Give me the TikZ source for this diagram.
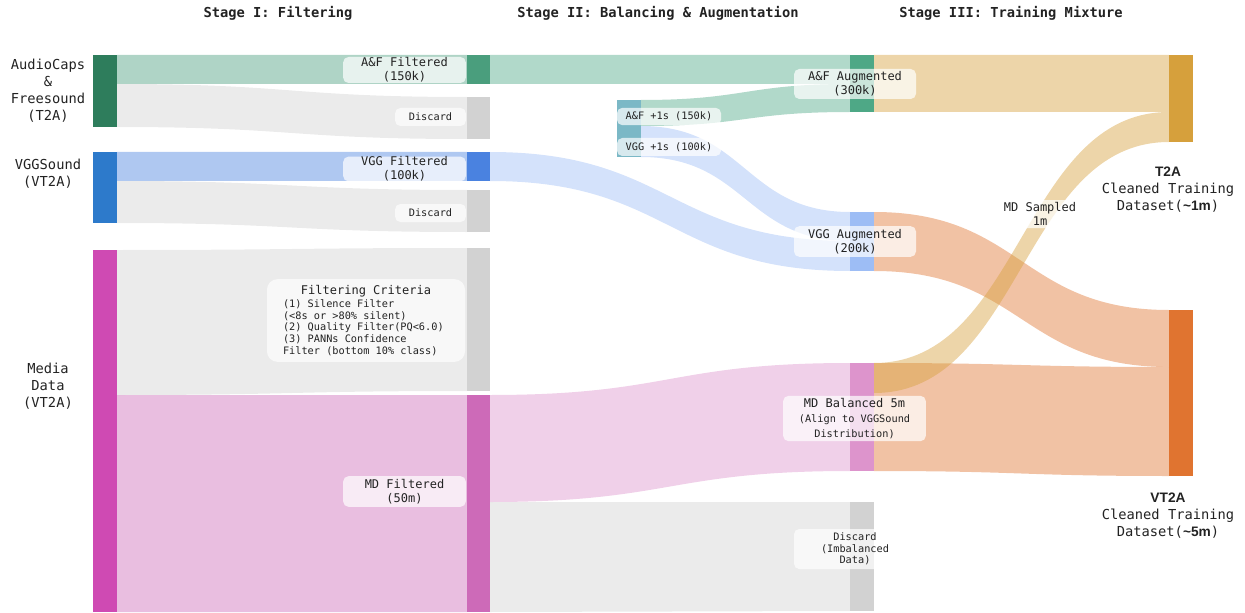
\documentclass[tikz,border=0pt]{standalone}
\usepackage{fontspec}
\setmainfont{DejaVu Sans Mono}
\newfontfamily\headsans{Liberation Sans}
\usetikzlibrary{fit}

\definecolor{ink}{HTML}{222222}
\definecolor{acgreen}{HTML}{2E7D5C}
\definecolor{vsblue}{HTML}{2D7ACB}
\definecolor{mdpink}{HTML}{CF4AB3}
\definecolor{affilt}{HTML}{4A9E7D}
\definecolor{vgfilt}{HTML}{4A82E0}
\definecolor{mdfilt}{HTML}{CD6AB8}
\definecolor{cutgray}{HTML}{D2D2D2}
\definecolor{plusteal}{HTML}{7BB8C6}
\definecolor{afaug}{HTML}{4EA886}
\definecolor{vgaug}{HTML}{9DBDF5}
\definecolor{mdbal}{HTML}{DD94CC}
\definecolor{tgold}{HTML}{D6A03C}
\definecolor{vorange}{HTML}{E07430}

\newcommand{\bigf}{\fontsize{10.3}{12.8}\selectfont}
\newcommand{\midf}{\fontsize{9}{10.5}\selectfont}
\newcommand{\smf}{\fontsize{7.7}{8.8}\selectfont}

% band between two bars: colour, x1, top1, bottom1, x2, top2, bottom2
\newcommand{\flow}[7]{%
  \fill[#1,fill opacity=0.44] (#2,#3) .. controls ({(#2+#5)/2},#3) and ({(#2+#5)/2},#6) .. (#5,#6)
    -- (#5,#7) .. controls ({(#2+#5)/2},#7) and ({(#2+#5)/2},#4) .. (#2,#4) -- cycle;}

\begin{document}
\begin{tikzpicture}[x=0.75pt,y=-0.75pt,
    bar/.style={inner sep=0pt,draw=none},
    tag/.style={fill=white,fill opacity=0.7,text opacity=1,rounded corners=4pt,inner sep=0pt,align=center,text=ink},
    side/.style={align=center,text=ink,font=\bigf},
    head/.style={font=\bigf\bfseries,text=ink}]
    \useasboundingbox (0,0) rectangle (1245,613);

    % stage titles
    \node[head] (s1) at (278,13) {Stage I: Filtering};
    \node[head] (s2) at (658,13) {Stage II: Balancing \& Augmentation};
    \node[head] (s3) at (1011,13) {Stage III: Training Mixture};

    % bands
    \flow{affilt}{117}{55}{84}{467}{55}{84}
    \flow{cutgray}{117}{84}{127}{467}{97}{139}
    \flow{vgfilt}{117}{152}{181}{467}{152}{181}
    \flow{cutgray}{117}{181}{223}{467}{190}{232}
    \flow{cutgray}{117}{250}{395}{467}{248}{391}
    \flow{mdfilt}{117}{395}{612}{467}{395}{612}
    \flow{afaug}{490}{55}{84}{850}{55}{84}
    \flow{afaug}{641}{100}{126}{850}{84}{112}
    \flow{vgaug}{641}{126}{157}{850}{212}{241}
    \flow{vgaug}{490}{152}{181}{850}{241}{271}
    \flow{mdbal}{490}{395}{502}{850}{363}{471}
    \flow{cutgray}{490}{502}{612}{850}{502}{611}
    \flow{tgold}{874}{55}{112}{1169}{55}{112}
    \flow{vorange}{874}{212}{271}{1169}{310}{367}
    \flow{vorange}{874}{363}{471}{1169}{367}{476}
    \flow{tgold}{874}{363}{393}{1169}{112}{142}

    % bars
    \node[bar,fill=acgreen,fit={(93,55)(117,127)}] (ac) {};
    \node[bar,fill=vsblue,fit={(93,152)(117,223)}] (vs) {};
    \node[bar,fill=mdpink,fit={(93,250)(117,612)}] (md) {};
    \node[bar,fill=affilt,fit={(467,55)(490,84)}] (aff) {};
    \node[bar,fill=cutgray,fit={(467,97)(490,139)}] (cuta) {};
    \node[bar,fill=vgfilt,fit={(467,152)(490,181)}] (vgf) {};
    \node[bar,fill=cutgray,fit={(467,190)(490,232)}] (cutv) {};
    \node[bar,fill=cutgray,fit={(467,248)(490,391)}] (cutm) {};
    \node[bar,fill=mdfilt,fit={(467,395)(490,612)}] (mdf) {};
    \node[bar,fill=plusteal,fit={(617,100)(641,126)}] (afp) {};
    \node[bar,fill=plusteal,fit={(617,126)(641,157)}] (vgp) {};
    \node[bar,fill=afaug,fit={(850,55)(874,112)}] (afa) {};
    \node[bar,fill=vgaug,fit={(850,212)(874,271)}] (vga) {};
    \node[bar,fill=mdbal,fit={(850,363)(874,471)}] (mdb) {};
    \node[bar,fill=cutgray,fit={(850,502)(874,611)}] (cutb) {};
    \node[bar,fill=tgold,fit={(1169,55)(1193,142)}] (t2a) {};
    \node[bar,fill=vorange,fit={(1169,310)(1193,476)}] (vt2a) {};

    % source labels
    \node[side] (acl) at (48,91) {AudioCaps\\\&\\Freesound\\(T2A)};
    \node[side] (vsl) at (48,174) {VGGSound\\(VT2A)};
    \node[side] (mdl) at (48,386) {Media\\Data\\(VT2A)};

    % tags
    \node[tag,font=\midf,minimum width=92pt,minimum height=19.5pt] (affl) at (404.5,70) {A\&F Filtered\\(150k)};
    \node[tag,font=\smf,minimum width=53pt,minimum height=13.5pt] (cutal) at (430.5,117) {Discard};
    \node[tag,font=\midf,minimum width=92pt,minimum height=18pt] (vgfl) at (404.5,169) {VGG Filtered\\(100k)};
    \node[tag,font=\smf,minimum width=53pt,minimum height=13.5pt] (cutvl) at (430.5,213) {Discard};
    \node[tag,rounded corners=8pt,minimum width=148.5pt,minimum height=62pt] (crit) at (366,320.5)
        {\begin{minipage}{124.5pt}\smf
         \makebox[\linewidth]{\midf Filtering Criteria}\\[1pt]
         (1) Silence Filter\\
         (<8s or >80\% silent)\\
         (2) Quality Filter(PQ<6.0)\\
         (3) PANNs Confidence\\
         Filter (bottom 10\% class)\end{minipage}};
    \node[tag,font=\midf,minimum width=92pt,minimum height=23pt] (mdfl) at (404.5,491.5) {MD Filtered\\(50m)};
    \node[tag,font=\smf,minimum width=78pt,minimum height=13pt] (afpl) at (669,116.5) {A\&F +1s (150k)};
    \node[tag,font=\smf,minimum width=78pt,minimum height=13.5pt] (vgpl) at (669,147) {VGG +1s (100k)};
    \node[tag,font=\midf,minimum width=91.5pt,minimum height=22.5pt] (afal) at (855,84) {A\&F Augmented\\(300k)};
    \node[tag,font=\midf,minimum width=91.5pt,minimum height=23pt] (vgal) at (855,241.5) {VGG Augmented\\(200k)};
    \node[tag,minimum width=107pt,minimum height=34pt] (mdbl) at (854.5,418.5)
        {{\midf MD Balanced 5m}\\[-1pt]{\smf (Align to VGGSound}\\[-1pt]{\smf Distribution)}};
    \node[tag,font=\smf,minimum width=91.5pt,minimum height=30pt] (cutbl) at (855,549) {Discard\\(Imbalanced\\Data)};
    \node[tag,font=\midf,minimum width=60pt,minimum height=21pt] (mdsl) at (1040,214) {MD Sampled\\1m};

    % target labels
    \node[side] (t2al) at (1168,190) {{\headsans\bfseries T2A}\\Cleaned Training\\Dataset({\headsans\bfseries\textasciitilde1m})};
    \node[side] (vt2al) at (1168,516) {{\headsans\bfseries VT2A}\\Cleaned Training\\Dataset({\headsans\bfseries\textasciitilde5m})};
\end{tikzpicture}
\end{document}
